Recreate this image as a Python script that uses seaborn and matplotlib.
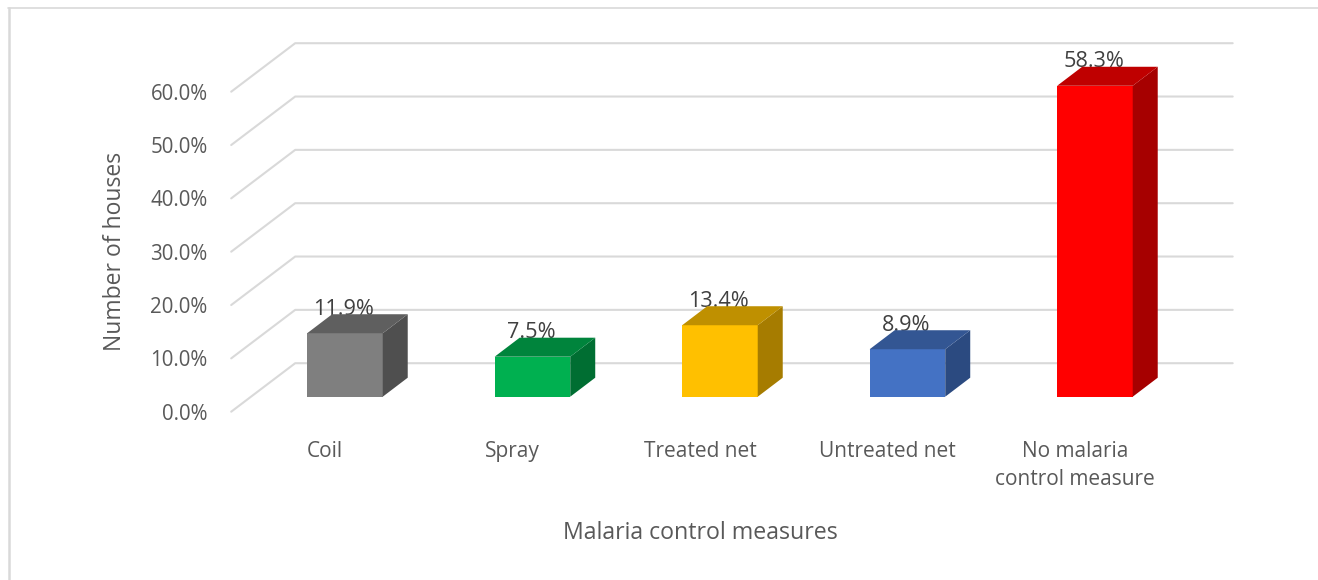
import matplotlib
matplotlib.use("Agg")
import matplotlib.pyplot as plt
import pandas as pd
import seaborn as sns
from matplotlib.lines import Line2D
from matplotlib.patches import Polygon
from matplotlib.transforms import Affine2D

measures = ["Coil", "Spray", "Treated net", "Untreated net", "No malaria\ncontrol measure"]
percent = [11.9, 7.5, 13.4, 8.9, 58.3]
y_ticks = [0, 10, 20, 30, 40, 50, 60]

front_colors = ["#7F7F7F", "#00B050", "#FFC000", "#4472C4", "#FF0000"]
top_colors = ["#5F5F5F", "#00843C", "#BF9000", "#335693", "#BF0000"]
side_colors = ["#4F4F4F", "#006E32", "#A67C00", "#2B4A80", "#A60000"]

W, H = 1318, 580
GRID = "#D9D9D9"
# pixel offsets of the fake 3d box, relative to the bar plane
FRONT = (-20, -15)
BACK = (44, 33.5)
DEPTH = (25, 19)

sns.set_theme(style="white")
plt.rcParams["font.family"] = ["Open Sans", "DejaVu Sans"]

fig = plt.figure(figsize=(W / 100, H / 100), dpi=100)
ax = fig.add_axes([251.2 / W, (H - 396.7) / H, 937.5 / W, 320 / H])
ax.patch.set_alpha(0)

df = pd.DataFrame({"measure": measures, "percent": percent})
sns.barplot(data=df, x="measure", y="percent", hue="measure", palette=front_colors,
            saturation=1, width=0.403, legend=False, ax=ax, zorder=3, linewidth=0)
ax.set_xlim(-0.5, 4.5)
ax.set_ylim(0, 60)
sns.despine(ax=ax, left=True, bottom=True)

# walls: back line plus the slanted bit on the left
for v in y_ticks:
    x0, y0 = ax.transData.transform((-0.5, v))
    x1, _ = ax.transData.transform((4.5, v))
    xs = [x0 + FRONT[0], x0 + BACK[0], x1 + BACK[0]]
    ys = [y0 + FRONT[1], y0 + BACK[1], y0 + BACK[1]]
    ax.add_line(Line2D(xs, ys, transform=None, color=GRID, lw=1.5, zorder=1, clip_on=False))

# side and top faces of each bar
for i, bar in enumerate(list(ax.patches)):
    (x0, y0), (x1, y1) = ax.transData.transform(bar.get_bbox().get_points())
    dx, dy = DEPTH
    side = [(x1, y0), (x1 + dx, y0 + dy), (x1 + dx, y1 + dy), (x1, y1)]
    top = [(x0, y1), (x0 + dx, y1 + dy), (x1 + dx, y1 + dy), (x1, y1)]
    ax.add_patch(Polygon(side, transform=None, fc=side_colors[i], ec="none", zorder=5, clip_on=False))
    ax.add_patch(Polygon(top, transform=None, fc=top_colors[i], ec="none", zorder=5, clip_on=False))
    ax.annotate(f"{percent[i]:.1f}%", (i, percent[i]), xytext=(-1, 24), textcoords="offset pixels",
                ha="center", va="center", fontsize=15.6, color="#404040", zorder=4, annotation_clip=False)

ax.set_yticks(y_ticks)
ax.set_yticklabels([f"{v:.1f}%" for v in y_ticks])
ax.tick_params(axis="y", length=0, pad=17, labelsize=14.8, labelcolor="#595959")
ax.tick_params(axis="x", length=0, pad=21, labelsize=15, labelcolor="#595959")
shift = Affine2D().translate(*FRONT)
for label in ax.get_xticklabels() + ax.get_yticklabels():
    label.set_transform(label.get_transform() + shift)
for label in ax.get_xticklabels():
    label.set_linespacing(1.45)

ax.set_xlabel("")
ax.set_ylabel("")
fig.text(700 / W, 1 - 533 / H, "Malaria control measures", ha="center", va="center",
         fontsize=16.7, color="#595959")
fig.text(115 / W, 1 - 251 / H, "Number of houses", ha="center", va="center", rotation=90,
         fontsize=16.5, color="#595959")

# chart frame, only left and top show
fig.add_artist(Line2D([8.5, 8.5], [0, H - 8], transform=None, color=GRID, lw=1.8))
fig.add_artist(Line2D([8, W], [H - 8, H - 8], transform=None, color=GRID, lw=1.2))

fig.savefig("out.png", dpi=100)
